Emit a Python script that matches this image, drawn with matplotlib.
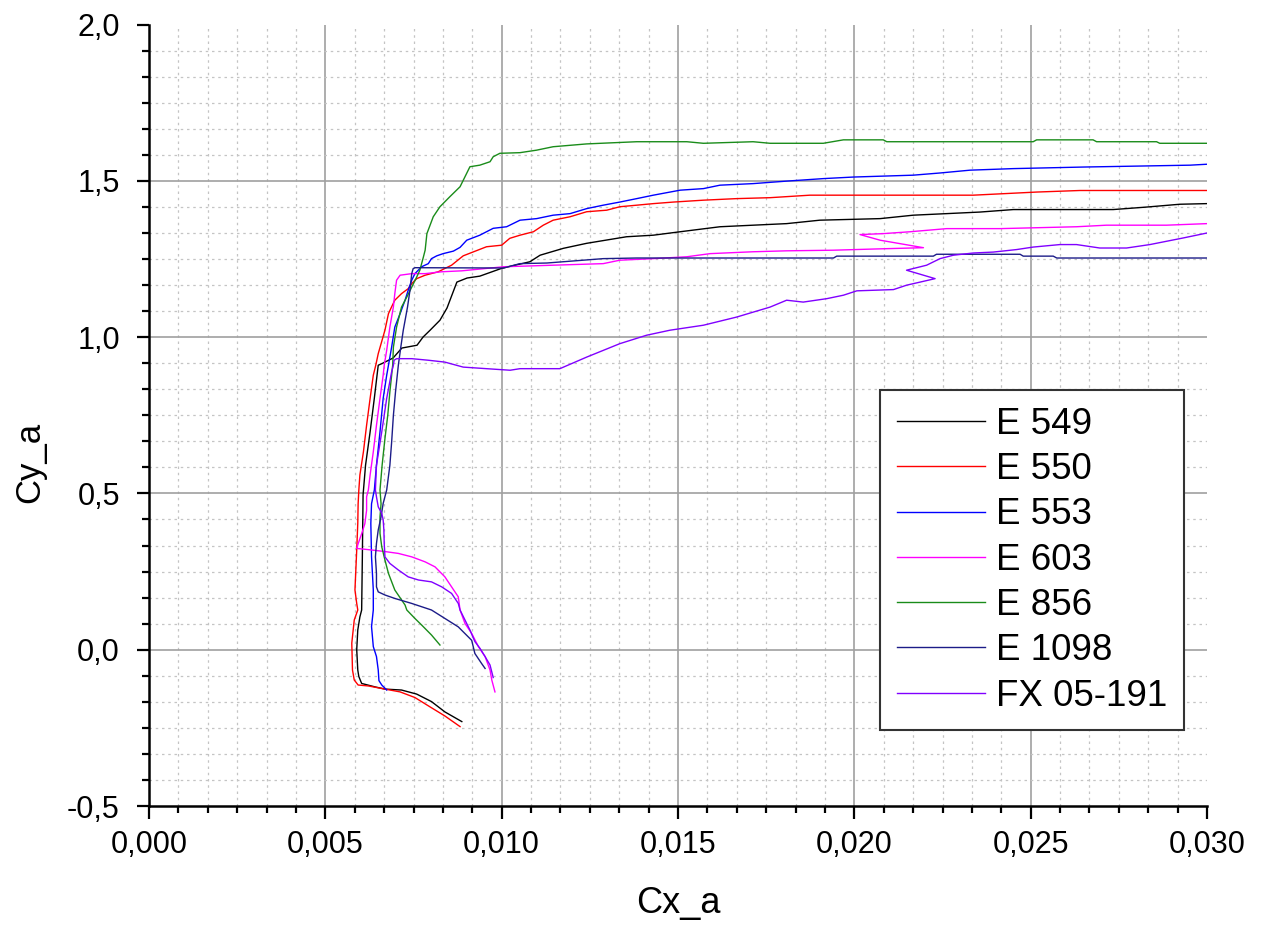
import matplotlib
matplotlib.use('Agg')
import matplotlib.pyplot as plt
from matplotlib.ticker import MultipleLocator, FuncFormatter

plt.rcParams.update({
    'font.family'      : 'Liberation Sans',
    'font.size'        : 22,
    'axes.linewidth'   : 1.8,
    'figure.facecolor' : 'white',
    'axes.facecolor'   : 'white',
})

# --- polars Cy_a(Cx_a) ---
e549_cx = [0.00887, 0.00839, 0.00801, 0.00759, 0.00716, 0.00669, 0.00641, 0.00603, 0.00595, 0.00592,
           0.00589, 0.00592, 0.00598, 0.00603, 0.00605, 0.00607, 0.00614, 0.00627, 0.00639, 0.00650,
           0.00660, 0.00692, 0.00717, 0.00760, 0.00777, 0.00797, 0.00825, 0.00845, 0.00873, 0.00902,
           0.00938, 0.01000, 0.01080, 0.01109, 0.01175, 0.01241, 0.01354, 0.01430, 0.01506, 0.01619,
           0.01713, 0.01808, 0.01902, 0.02073, 0.02167, 0.02262, 0.02356, 0.02451, 0.02734, 0.02829,
           0.02923, 0.03000]
e549_cy = [-0.230, -0.199, -0.166, -0.142, -0.129, -0.126, -0.119, -0.108, -0.086, -0.065,
           0.000, 0.063, 0.105, 0.127, 0.300, 0.495, 0.590, 0.697, 0.805, 0.910,
           0.915, 0.933, 0.965, 0.974, 1.000, 1.022, 1.054, 1.093, 1.176, 1.189,
           1.195, 1.220, 1.241, 1.262, 1.284, 1.300, 1.321, 1.326, 1.337, 1.353,
           1.358, 1.363, 1.374, 1.379, 1.390, 1.395, 1.400, 1.408, 1.408, 1.416,
           1.425, 1.427]

e550_cx = [0.00882, 0.00839, 0.00797, 0.00754, 0.00712, 0.00669, 0.00622, 0.00593, 0.00582, 0.00577,
           0.00575, 0.00582, 0.00592, 0.00589, 0.00584, 0.00589, 0.00592, 0.00593, 0.00595, 0.00598,
           0.00608, 0.00617, 0.00627, 0.00636, 0.00643, 0.00650, 0.00669, 0.00679, 0.00688, 0.00697,
           0.00716, 0.00735, 0.00745, 0.00759, 0.00783, 0.00820, 0.00858, 0.00891, 0.00957, 0.01000,
           0.01023, 0.01052, 0.01090, 0.01118, 0.01146, 0.01194, 0.01241, 0.01298, 0.01335, 0.01383,
           0.01430, 0.01487, 0.01572, 0.01666, 0.01761, 0.01874, 0.02337, 0.02517, 0.02640, 0.03000]
e550_cy = [-0.246, -0.212, -0.183, -0.153, -0.135, -0.126, -0.116, -0.113, -0.097, -0.065,
           0.021, 0.095, 0.127, 0.148, 0.191, 0.319, 0.404, 0.467, 0.511, 0.559,
           0.633, 0.718, 0.804, 0.878, 0.910, 0.947, 1.022, 1.075, 1.097, 1.118,
           1.139, 1.155, 1.171, 1.187, 1.198, 1.209, 1.230, 1.260, 1.289, 1.294,
           1.316, 1.326, 1.337, 1.358, 1.374, 1.385, 1.401, 1.406, 1.417, 1.422,
           1.427, 1.432, 1.438, 1.443, 1.446, 1.454, 1.454, 1.464, 1.469, 1.469]

e553_cx = [0.00674, 0.00660, 0.00652, 0.00650, 0.00645, 0.00636, 0.00631, 0.00636, 0.00636, 0.00631,
           0.00629, 0.00631, 0.00639, 0.00645, 0.00655, 0.00664, 0.00674, 0.00679, 0.00688, 0.00697,
           0.00712, 0.00726, 0.00735, 0.00745, 0.00754, 0.00773, 0.00792, 0.00801, 0.00816, 0.00834,
           0.00863, 0.00882, 0.00901, 0.00938, 0.00976, 0.01014, 0.01052, 0.01099, 0.01146, 0.01194,
           0.01241, 0.01288, 0.01335, 0.01383, 0.01430, 0.01506, 0.01572, 0.01619, 0.01713, 0.01808,
           0.01912, 0.01997, 0.02167, 0.02243, 0.02328, 0.02451, 0.02649, 0.02952, 0.03000]
e553_cy = [-0.129, -0.113, -0.099, -0.065, -0.022, 0.010, 0.074, 0.127, 0.191, 0.297,
           0.404, 0.467, 0.511, 0.590, 0.697, 0.804, 0.878, 0.910, 0.968, 1.032,
           1.075, 1.118, 1.150, 1.182, 1.203, 1.225, 1.235, 1.251, 1.260, 1.267,
           1.275, 1.287, 1.310, 1.326, 1.348, 1.353, 1.374, 1.379, 1.390, 1.395,
           1.411, 1.422, 1.432, 1.443, 1.454, 1.470, 1.475, 1.486, 1.491, 1.499,
           1.507, 1.512, 1.518, 1.525, 1.534, 1.539, 1.544, 1.550, 1.553]

e603_cx = [0.00981, 0.00972, 0.00967, 0.00953, 0.00934, 0.00915, 0.00896, 0.00882, 0.00877, 0.00858,
           0.00839, 0.00811, 0.00783, 0.00745, 0.00707, 0.00669, 0.00631, 0.00589, 0.00593, 0.00603,
           0.00612, 0.00617, 0.00617, 0.00622, 0.00627, 0.00636, 0.00645, 0.00655, 0.00664, 0.00667,
           0.00674, 0.00683, 0.00693, 0.00697, 0.00702, 0.00712, 0.00745, 0.00783, 0.00830, 0.00887,
           0.01005, 0.01146, 0.01288, 0.01335, 0.01430, 0.01525, 0.01591, 0.01713, 0.01808, 0.01941,
           0.02063, 0.02196, 0.02073, 0.02016, 0.02082, 0.02158, 0.02262, 0.02413, 0.02630, 0.02715,
           0.02885, 0.03000]
e603_cy = [-0.135, -0.097, -0.065, -0.022, 0.010, 0.052, 0.084, 0.127, 0.169, 0.201,
           0.233, 0.265, 0.281, 0.297, 0.308, 0.314, 0.319, 0.324, 0.339, 0.371,
           0.403, 0.446, 0.489, 0.511, 0.559, 0.633, 0.718, 0.804, 0.878, 0.910,
           0.958, 1.032, 1.097, 1.139, 1.182, 1.198, 1.203, 1.203, 1.209, 1.212,
           1.225, 1.230, 1.235, 1.246, 1.251, 1.257, 1.267, 1.273, 1.276, 1.278,
           1.282, 1.286, 1.310, 1.328, 1.331, 1.337, 1.347, 1.347, 1.353, 1.358,
           1.358, 1.363]

e856_cx = [0.00825, 0.00801, 0.00773, 0.00754, 0.00731, 0.00726, 0.00697, 0.00679, 0.00669, 0.00660,
           0.00655, 0.00655, 0.00658, 0.00655, 0.00661, 0.00669, 0.00677, 0.00683, 0.00688, 0.00691,
           0.00693, 0.00702, 0.00716, 0.00731, 0.00745, 0.00759, 0.00768, 0.00773, 0.00778, 0.00783,
           0.00788, 0.00806, 0.00825, 0.00853, 0.00882, 0.00896, 0.00910, 0.00938, 0.00967, 0.00976,
           0.00995, 0.01052, 0.01099, 0.01146, 0.01241, 0.01383, 0.01525, 0.01572, 0.01713, 0.01761,
           0.01912, 0.01969, 0.02082, 0.02092, 0.02507, 0.02517, 0.02677, 0.02687, 0.02857, 0.02866,
           0.03000]
e856_cy = [0.015, 0.047, 0.079, 0.100, 0.127, 0.143, 0.191, 0.244, 0.287, 0.329,
           0.372, 0.425, 0.467, 0.511, 0.590, 0.675, 0.750, 0.825, 0.878, 0.910,
           0.968, 1.032, 1.096, 1.128, 1.160, 1.192, 1.214, 1.235, 1.256, 1.278,
           1.331, 1.385, 1.417, 1.449, 1.481, 1.513, 1.545, 1.550, 1.561, 1.577,
           1.588, 1.590, 1.598, 1.609, 1.618, 1.625, 1.625, 1.620, 1.625, 1.620,
           1.620, 1.631, 1.631, 1.625, 1.625, 1.631, 1.631, 1.625, 1.625, 1.620,
           1.620]

e1098_cx = [0.00953, 0.00943, 0.00924, 0.00915, 0.00877, 0.00839, 0.00801, 0.00745, 0.00697, 0.00669,
            0.00650, 0.00645, 0.00645, 0.00642, 0.00645, 0.00650, 0.00658, 0.00664, 0.00674, 0.00683,
            0.00688, 0.00693, 0.00699, 0.00704, 0.00707, 0.00714, 0.00721, 0.00728, 0.00733, 0.00740,
            0.00745, 0.00749, 0.00754, 0.01005, 0.01052, 0.01128, 0.01288, 0.01383, 0.01941, 0.01950,
            0.02224, 0.02233, 0.02470, 0.02479, 0.02564, 0.02574, 0.03000]
e1098_cy = [-0.060, -0.044, -0.012, 0.030, 0.073, 0.100, 0.127, 0.148, 0.164, 0.175,
            0.185, 0.201, 0.244, 0.297, 0.340, 0.383, 0.425, 0.468, 0.511, 0.590,
            0.664, 0.750, 0.825, 0.878, 0.910, 0.968, 1.022, 1.065, 1.096, 1.150,
            1.203, 1.219, 1.222, 1.221, 1.235, 1.237, 1.251, 1.253, 1.253, 1.259,
            1.259, 1.265, 1.265, 1.259, 1.259, 1.253, 1.253]

fx_cx = [0.00976, 0.00967, 0.00953, 0.00938, 0.00924, 0.00910, 0.00896, 0.00882, 0.00877, 0.00858,
         0.00830, 0.00801, 0.00764, 0.00735, 0.00707, 0.00683, 0.00669, 0.00667, 0.00666, 0.00664,
         0.00660, 0.00650, 0.00645, 0.00642, 0.00645, 0.00660, 0.00674, 0.00688, 0.00693, 0.00695,
         0.00702, 0.00745, 0.00792, 0.00839, 0.00891, 0.00957, 0.01024, 0.01052, 0.01165, 0.01241,
         0.01335, 0.01411, 0.01477, 0.01572, 0.01666, 0.01761, 0.01808, 0.01855, 0.01922, 0.01969,
         0.02007, 0.02111, 0.02148, 0.02229, 0.02148, 0.02205, 0.02243, 0.02281, 0.02337, 0.02394,
         0.02460, 0.02507, 0.02583, 0.02630, 0.02696, 0.02772, 0.02838, 0.02932, 0.03000]
fx_cy = [-0.089, -0.049, -0.022, 0.005, 0.026, 0.063, 0.095, 0.127, 0.148, 0.180,
         0.201, 0.217, 0.223, 0.233, 0.255, 0.276, 0.297, 0.340, 0.383, 0.415,
         0.436, 0.457, 0.489, 0.511, 0.590, 0.697, 0.804, 0.889, 0.910, 0.926,
         0.931, 0.931, 0.926, 0.920, 0.904, 0.899, 0.894, 0.899, 0.899, 0.936,
         0.979, 1.006, 1.022, 1.038, 1.064, 1.096, 1.118, 1.112, 1.123, 1.134,
         1.148, 1.152, 1.166, 1.187, 1.214, 1.230, 1.251, 1.262, 1.269, 1.272,
         1.280, 1.288, 1.296, 1.296, 1.285, 1.285, 1.296, 1.317, 1.333]

series = [
    ('E 549',     e549_cx,  e549_cy,  '#000000'),
    ('E 550',     e550_cx,  e550_cy,  '#FF0000'),
    ('E 553',     e553_cx,  e553_cy,  '#0000FF'),
    ('E 603',     e603_cx,  e603_cy,  '#FF00FF'),
    ('E 856',     e856_cx,  e856_cy,  '#1A8C1A'),
    ('E 1098',    e1098_cx, e1098_cy, '#1C1C88'),
    ('FX 05-191', fx_cx,    fx_cy,    '#8000FF'),
]

X_MIN, X_MAX, X_STEP = 0.0, 0.030, 0.005
Y_MIN, Y_MAX, Y_STEP = -0.5, 2.0, 0.5
N_SUB = 6   # 5 minor ticks between majors


def comma_fmt(decimals):
    def _f(v, pos):
        s = f'{v:.{decimals}f}'
        if s.startswith('-') and float(s) == 0:
            s = s[1:]
        return s.replace('.', ',')
    return FuncFormatter(_f)


fig = plt.figure(figsize=(12.65, 9.32), dpi=100)
ax = fig.add_axes([149 / 1265, 1 - 806 / 932, (1207 - 149) / 1265, (806 - 24.5) / 932])

# grid drawn by hand so the frame edges stay clean
for i in range(1, int(round((X_MAX - X_MIN) / X_STEP * N_SUB))):
    x = X_MIN + i * X_STEP / N_SUB
    if i % N_SUB == 0:
        ax.axvline(x, color='#A0A0A0', lw=1.2, zorder=0)
    else:
        ax.axvline(x, color='#C4C4C4', lw=0.9, ls=(0, (2, 3)), zorder=0)
for i in range(1, int(round((Y_MAX - Y_MIN) / Y_STEP * N_SUB))):
    y = Y_MIN + i * Y_STEP / N_SUB
    if i % N_SUB == 0:
        ax.axhline(y, color='#A0A0A0', lw=1.2, zorder=0)
    else:
        ax.axhline(y, color='#C4C4C4', lw=0.9, ls=(0, (2, 3)), zorder=0)

for name, cx, cy, col in series:
    ax.plot(cx, cy, color=col, lw=1.0, label=name)

ax.set_xlim(X_MIN, X_MAX)
ax.set_ylim(Y_MIN, Y_MAX)
ax.spines['top'].set_visible(False)
ax.spines['right'].set_visible(False)

ax.xaxis.set_major_locator(MultipleLocator(X_STEP))
ax.xaxis.set_minor_locator(MultipleLocator(X_STEP / N_SUB))
ax.yaxis.set_major_locator(MultipleLocator(Y_STEP))
ax.yaxis.set_minor_locator(MultipleLocator(Y_STEP / N_SUB))
ax.xaxis.set_major_formatter(comma_fmt(3))
ax.yaxis.set_major_formatter(comma_fmt(1))
ax.tick_params(which='major', direction='out', length=9, width=1.6, labelsize=22)
ax.tick_params(axis='x', which='major', pad=8)
ax.tick_params(axis='y', which='major', pad=12)
ax.tick_params(which='minor', direction='out', length=5, width=1.6)

ax.set_xlabel('Cx_a', fontsize=26)
ax.set_ylabel('Cy_a', fontsize=25)
ax.xaxis.set_label_coords(0.5, -0.103)
ax.yaxis.set_label_coords(-0.097, 0.44)

leg = ax.legend(loc='upper right', bbox_to_anchor=(0.978, 0.532), fontsize=26.5,
                frameon=True, fancybox=False, framealpha=1, edgecolor='#333333',
                handlelength=2.4, handletextpad=0.3, labelspacing=0.28,
                borderpad=0.45, borderaxespad=0)
leg.get_frame().set_linewidth(1.5)

fig.savefig('out.png', dpi=100)
